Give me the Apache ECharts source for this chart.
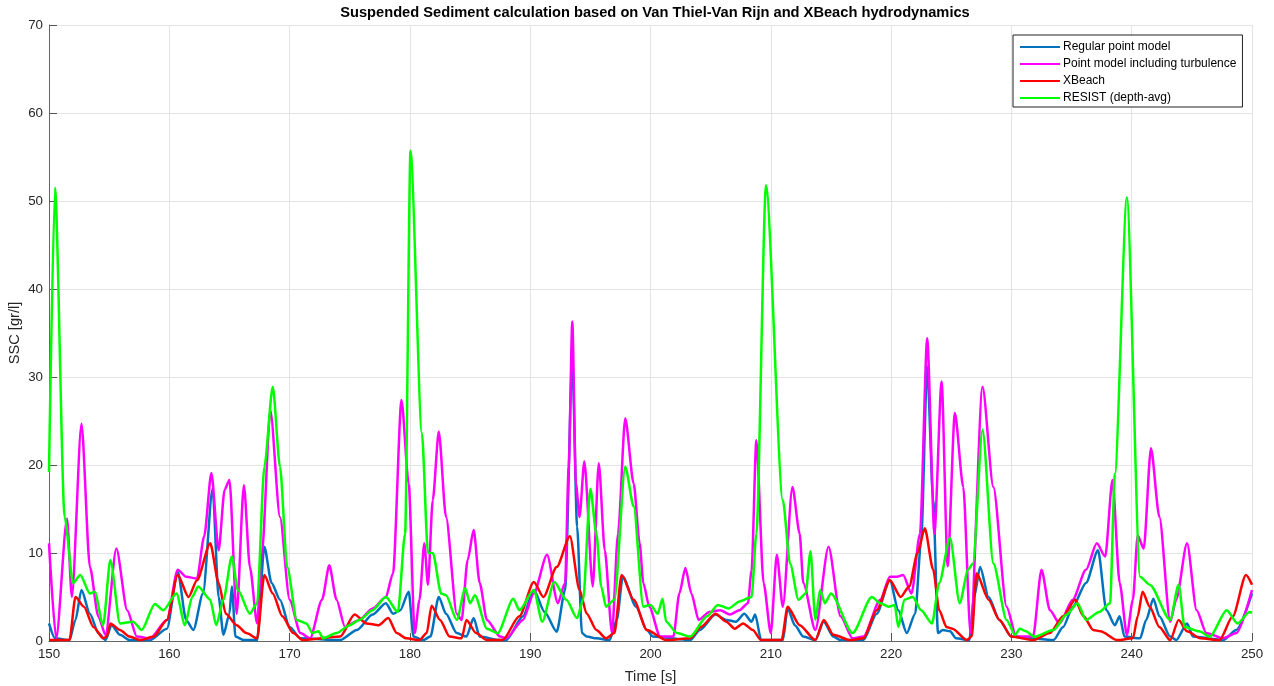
<!DOCTYPE html>
<html>
<head>
<meta charset="utf-8">
<script src="https://cdn.jsdelivr.net/npm/echarts@6/dist/echarts.min.js"></script>
<style>html,body{margin:0;padding:0;background:#fff}#c{width:1274px;height:686px}</style>
</head>
<body>
<div id="c"></div>
<script>
const seriesNames = ['Regular point model', 'Point model including turbulence', 'XBeach', 'RESIST (depth-avg)'];
const xTicks = [150, 160, 170, 180, 190, 200, 210, 220, 230, 240, 250];
const yTicks = [0, 10, 20, 30, 40, 50, 60, 70];

// [time (s), SSC (gr/l)]
const regularPoint = [[150,2.0],[150.5,0.3],[151.7,0.1],[152.2,2.4],[152.7,5.8],[153.4,3.1],[154.1,0.9],[154.7,0.1],[155.2,1.8],[155.9,0.7],[156.7,0.1],[158.4,0.1],[159.8,1.4],[160.7,7.9],[161.4,2.4],[162.0,1.25],[162.8,5.4],[163.6,17.3],[164.1,5.0],[164.5,0.7],[165.0,3.1],[165.2,6.2],[165.5,0.5],[166.2,0.1],[167.3,0.1],[167.9,10.7],[168.5,6.6],[169.2,4.7],[170.0,1.6],[170.9,0.3],[174.2,0.1],[175.6,1.25],[176.9,3.0],[178.0,4.3],[178.6,3.1],[179.2,3.5],[179.9,5.6],[180.3,0.5],[181.1,0.1],[181.7,0.5],[182.4,5.0],[183.0,3.1],[183.9,0.9],[184.7,0.5],[185.3,2.6],[185.8,0.5],[187.5,0.1],[188.0,0.1],[189.4,2.8],[190.3,5.8],[191.2,3.3],[192.2,1.06],[192.9,5.8],[193.5,31.9],[193.9,13.0],[194.3,0.9],[194.7,0.5],[195.5,0.3],[196.6,0.1],[197.2,2.4],[197.7,7.3],[198.8,3.9],[199.7,1.25],[200.2,0.5],[203.3,0.1],[204.1,1.25],[205.4,3.0],[206.3,2.4],[207.1,2.2],[207.8,3.1],[208.4,2.2],[208.7,3.0],[209.2,0.1],[211.0,0.1],[211.4,3.7],[212.0,1.8],[212.7,0.5],[213.7,0.1],[214.4,2.2],[215.2,0.5],[215.8,0.1],[217.7,0.1],[218.8,3.1],[219.9,6.9],[220.6,3.5],[221.3,0.9],[222.0,3.1],[222.5,11.5],[223.0,31.2],[223.5,16.0],[223.9,0.9],[224.3,1.25],[224.9,1.1],[225.4,0.3],[226.5,0.1],[226.9,5.0],[227.4,8.4],[228.1,5.0],[229.0,2.4],[230.0,0.5],[233.5,0.1],[234.3,1.6],[235.1,3.9],[236.2,6.6],[237.2,10.3],[237.9,3.5],[238.6,1.8],[239.0,2.8],[239.4,0.5],[240.7,0.3],[241.2,2.4],[241.8,4.8],[242.3,2.8],[243.2,0.5],[243.7,0.1],[244.6,2.0],[245.1,0.5],[247.6,0.1],[248.7,1.25],[250.0,5.4]];

const pointTurbulence = [[150,11.1],[150.6,0.3],[151.5,13.9],[151.9,5.0],[152.7,24.7],[153.4,8.4],[154.1,2.8],[154.7,0.7],[155.6,10.5],[156.5,3.5],[157.3,0.5],[158.4,0.3],[159.8,2.4],[160.7,8.1],[161.4,7.3],[162.3,7.1],[162.9,11.9],[163.5,19.1],[164.1,10.3],[164.6,17.2],[165.0,18.3],[165.6,3.1],[166.2,17.7],[166.7,8.4],[167.3,2.0],[167.7,10.0],[168.4,26.2],[169.2,14.1],[170.0,4.7],[170.9,0.9],[171.7,0.3],[172.7,4.7],[173.3,8.6],[173.9,4.7],[174.6,1.6],[175.8,2.4],[176.9,3.7],[178.0,5.0],[178.6,7.7],[179.3,27.4],[179.9,17.9],[180.4,0.9],[180.8,4.7],[181.2,11.1],[181.5,6.4],[181.9,16.0],[182.4,23.8],[183.0,14.1],[183.9,3.1],[184.3,2.4],[184.8,9.2],[185.3,12.6],[185.8,6.6],[186.4,2.4],[187.5,0.5],[188.0,0.3],[189.4,2.4],[190.3,5.4],[191.4,9.8],[192.3,4.3],[192.9,6.6],[193.2,19.8],[193.5,36.3],[193.8,17.9],[194.1,14.1],[194.5,20.4],[195.2,6.2],[195.7,20.2],[196.2,10.3],[196.8,0.9],[197.3,12.2],[197.9,25.3],[198.6,17.9],[199.1,11.1],[199.4,6.6],[199.9,3.9],[200.8,0.5],[201.9,0.5],[202.4,5.4],[202.9,8.3],[203.4,5.4],[204.0,2.4],[204.9,3.3],[205.8,3.5],[206.6,3.0],[207.4,3.5],[208.1,4.3],[208.4,8.0],[208.8,22.8],[209.4,6.6],[210.0,0.9],[210.5,9.8],[211.0,3.9],[211.8,17.5],[212.4,12.2],[212.7,6.6],[213.7,1.25],[214.8,10.7],[215.8,2.8],[216.8,0.3],[217.7,0.5],[219.1,4.7],[219.9,7.3],[220.5,7.3],[221.0,7.5],[221.7,5.4],[222.4,12.2],[223.0,34.4],[223.6,12.2],[224.2,29.5],[224.7,8.5],[225.3,25.9],[226.0,17.5],[226.6,0.9],[227.6,28.9],[228.5,17.5],[229.6,3.9],[230.4,0.5],[231.8,0.5],[232.5,8.1],[233.2,3.5],[234.0,2.0],[235.1,4.7],[236.2,8.1],[237.1,11.1],[237.8,9.6],[238.4,18.3],[239.0,6.6],[239.6,0.7],[240.1,4.7],[240.5,12.0],[241.0,10.5],[241.6,21.9],[242.3,14.1],[243.2,2.2],[243.7,4.7],[244.6,11.1],[245.4,3.5],[246.2,0.9],[247.6,0.3],[248.7,0.9],[250.0,5.8]];

const xbeach = [[150,0.1],[151.7,0.1],[152.2,5.0],[152.9,3.9],[153.7,1.6],[154.5,0.3],[154.8,0.5],[155.1,2.0],[155.9,1.25],[156.7,0.5],[157.6,0.1],[158.7,0.5],[159.8,2.4],[160.7,7.5],[161.6,5.0],[162.3,6.9],[163.4,11.1],[164.1,6.6],[164.7,3.1],[165.6,1.8],[166.4,0.9],[167.3,0.3],[167.9,7.5],[168.6,5.4],[169.4,2.8],[170.3,0.9],[171.1,0.1],[174.2,0.5],[175.4,3.0],[176.4,2.0],[177.4,1.8],[178.2,2.6],[178.9,0.9],[179.7,0.3],[180.8,0.1],[181.4,0.9],[181.8,4.0],[182.5,2.4],[183.3,0.5],[184.3,0.3],[184.7,2.4],[185.5,0.9],[186.4,0.1],[187.7,0.1],[189.1,2.8],[190.3,6.7],[191.1,5.0],[192.2,8.4],[193.3,11.9],[194.1,5.8],[194.7,3.1],[195.5,1.25],[196.3,0.3],[197.0,0.9],[197.6,7.5],[198.6,4.7],[199.7,1.25],[201.3,0.1],[203.3,0.3],[204.2,1.6],[205.4,3.1],[206.3,2.2],[207.0,1.4],[207.7,2.0],[208.5,1.25],[209.2,0.1],[210.9,0.1],[211.4,3.9],[212.4,1.8],[213.7,0.1],[214.4,2.4],[215.2,0.7],[216.6,0.1],[217.7,0.3],[218.8,3.5],[219.9,6.9],[220.8,5.0],[221.5,6.2],[222.2,10.0],[222.8,12.8],[223.5,8.1],[224.0,3.5],[224.6,1.6],[225.1,1.4],[226.3,0.1],[226.7,0.5],[227.1,7.7],[228.1,4.7],[229.0,2.4],[230.0,0.5],[231.8,0.1],[233.2,0.9],[234.3,2.8],[235.3,4.7],[236.0,2.8],[236.8,1.25],[237.4,1.1],[238.8,0.1],[240.1,0.3],[240.5,2.8],[240.9,5.6],[241.5,3.9],[242.3,1.6],[243.2,0.1],[243.9,2.4],[244.6,1.1],[245.7,0.3],[247.3,0.1],[248.4,2.8],[249.5,7.5],[250.0,6.4]];

const resist = [[150,19.2],[150.5,51.5],[151.3,14.1],[152.0,6.6],[152.6,7.5],[153.4,5.4],[153.8,5.6],[154.5,1.8],[155.1,9.2],[155.9,2.0],[157.0,2.2],[157.7,1.25],[158.8,4.2],[159.5,3.5],[160.6,5.4],[161.3,1.8],[161.9,5.0],[162.4,6.2],[163.4,4.7],[163.9,1.8],[164.5,4.7],[165.2,9.6],[165.7,5.8],[166.7,3.1],[167.3,4.3],[167.9,19.8],[168.6,28.9],[169.2,19.8],[169.8,8.4],[170.6,2.4],[171.4,2.0],[171.9,0.9],[172.4,1.1],[172.8,0.3],[173.9,0.9],[175.0,1.8],[175.8,2.4],[176.9,3.5],[178.0,5.0],[179.0,3.3],[179.6,12.2],[180.05,55.7],[181.0,23.6],[181.5,10.0],[181.9,10.0],[182.6,5.4],[183.0,5.2],[183.9,2.4],[184.6,6.0],[185.0,4.3],[185.4,5.2],[186.4,1.4],[187.3,0.9],[188.6,4.8],[189.1,3.5],[190.3,5.8],[191.0,2.2],[192.0,6.7],[193.0,4.7],[193.9,2.6],[194.4,4.7],[195.0,17.3],[195.5,12.2],[195.9,6.2],[196.3,3.9],[197.0,4.7],[197.9,19.8],[198.6,15.3],[199.4,3.9],[200.0,4.1],[200.6,3.1],[201.0,4.8],[201.3,2.2],[202.2,0.9],[203.3,0.5],[204.7,2.8],[205.6,4.1],[206.5,3.7],[207.4,4.5],[208.4,5.0],[208.8,12.2],[209.6,51.8],[211.0,16.0],[211.6,8.8],[212.3,4.7],[212.9,5.4],[213.3,10.2],[213.7,2.4],[214.1,5.8],[214.5,4.3],[215.0,5.4],[216.8,0.9],[218.4,5.0],[219.1,4.3],[219.8,3.9],[220.3,4.1],[220.6,1.6],[221.1,4.7],[221.8,5.0],[222.5,3.5],[223.4,2.0],[224.0,6.6],[224.9,11.7],[225.7,4.3],[226.4,8.1],[226.8,8.8],[227.6,24.0],[228.5,8.8],[229.6,2.4],[230.3,0.7],[230.7,1.4],[231.2,1.1],[231.9,0.5],[233.5,1.25],[234.6,3.0],[235.5,4.3],[236.2,2.4],[237.3,3.3],[238.2,4.3],[238.6,19.0],[239.6,50.4],[240.7,7.3],[241.5,6.4],[243.2,2.4],[243.9,6.4],[244.4,1.6],[245.6,1.1],[246.5,0.5],[247.9,3.5],[248.8,2.0],[249.8,3.3],[250.0,3.2]];

const colors = ['#0072BD', '#FF00FF', '#FF0000', '#00FF00'];
const allData = [regularPoint, pointTurbulence, xbeach, resist];

const chart = echarts.init(document.getElementById('c'), null, {renderer: 'canvas'});
const font = 'Liberation Sans, Arial, Helvetica, sans-serif';
chart.setOption({
  animation: false,
  backgroundColor: '#fff',
  title: {
    text: 'Suspended Sediment calculation based on Van Thiel-Van Rijn and XBeach hydrodynamics',
    left: 650, textAlign: 'center', top: 0,
    textStyle: {fontFamily: font, fontSize: 14.67, fontWeight: 'bold', color: '#000'}
  },
  legend: {
    orient: 'vertical', left: 1013, top: 35,
    data: seriesNames,
    icon: 'rect', itemWidth: 40, itemHeight: 2, itemGap: 5,
    padding: [6, 6, 3, 7],
    borderColor: '#222', borderWidth: 1, backgroundColor: '#fff', borderRadius: 0,
    textStyle: {fontFamily: font, fontSize: 12, color: '#000', padding: [0, 0, 0, -2]}
  },
  grid: {left: 49, right: 22, top: 25, bottom: 45, containLabel: false, outerBoundsMode: 'none'},
  xAxis: {
    type: 'value', min: xTicks[0], max: xTicks[xTicks.length - 1], interval: 10,
    name: 'Time [s]', nameLocation: 'middle', nameGap: 28,
    nameTextStyle: {fontFamily: font, fontSize: 14.67, color: '#262626'},
    axisLine: {show: true, onZero: false, lineStyle: {color: '#666', width: 1}},
    axisTick: {show: true, inside: true, length: 8, lineStyle: {color: '#555'}},
    axisLabel: {fontFamily: font, fontSize: 13.33, color: '#262626', margin: 7},
    splitLine: {show: true, lineStyle: {color: '#e4e4e4', width: 1}}
  },
  yAxis: {
    type: 'value', min: yTicks[0], max: yTicks[yTicks.length - 1], interval: 10,
    name: 'SSC [gr/l]', nameLocation: 'middle', nameGap: 27, nameMoveOverlap: false,
    nameTextStyle: {fontFamily: font, fontSize: 14.67, color: '#262626'},
    axisLine: {show: true, lineStyle: {color: '#666', width: 1}},
    axisTick: {show: true, inside: true, length: 8, lineStyle: {color: '#555'}},
    axisLabel: {fontFamily: font, fontSize: 13.33, color: '#262626', margin: 6},
    splitLine: {show: true, lineStyle: {color: '#e4e4e4', width: 1}}
  },
  series: allData.map((d, i) => ({
    name: seriesNames[i], type: 'line', data: d,
    showSymbol: false, smooth: 0.25, smoothMonotone: 'x',
    lineStyle: {color: colors[i], width: 2.5}, itemStyle: {color: colors[i]},
    clip: true, z: 2 + i
  }))
});
</script>
</body>
</html>
